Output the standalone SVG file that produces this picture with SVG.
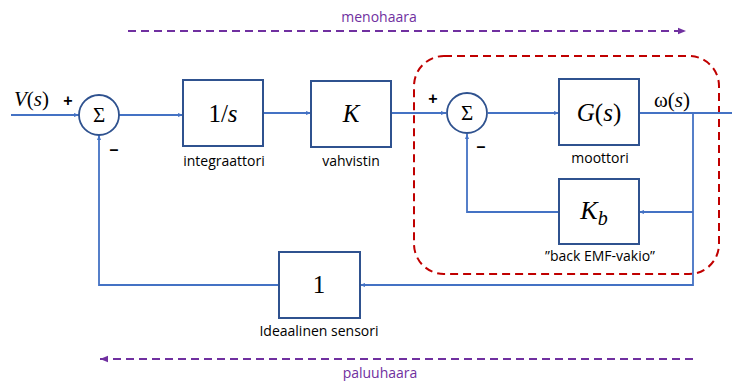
<svg xmlns="http://www.w3.org/2000/svg" width="732" height="381" viewBox="0 0 732 381">
<defs>
<style>
.box{fill:#fff;stroke:#2F528F;stroke-width:2}
.sum{fill:#fff;stroke:#2F528F;stroke-width:1.8}
.ln{fill:none;stroke:#4472C4;stroke-width:1.8}
.pd{fill:none;stroke:#7030A0;stroke-width:2;stroke-dasharray:8 5}
.rd{fill:none;stroke:#C00000;stroke-width:2;stroke-dasharray:8 5}
.math{font-family:"Liberation Serif","Times New Roman",serif;fill:#000}
.lbl{font-family:"Open Sans","Liberation Sans",sans-serif;font-size:14px;fill:#000;text-anchor:middle}
.plbl{font-family:"Open Sans","Liberation Sans",sans-serif;font-size:14px;fill:#7030A0;text-anchor:middle}
.sgn{font-family:"Liberation Sans",Arial,sans-serif;font-size:16px;font-weight:bold;fill:#000;text-anchor:middle}
</style>
<marker id="ab" viewBox="0 0 10 10" refX="10" refY="5" markerWidth="5" markerHeight="5" orient="auto" markerUnits="userSpaceOnUse"><path d="M0,1 L10,5 L0,9 z" fill="#4472C4"/></marker>
<marker id="ap" viewBox="0 0 10 10" refX="10" refY="5" markerWidth="8" markerHeight="8" orient="auto" markerUnits="userSpaceOnUse"><path d="M0,1 L10,5 L0,9 z" fill="#7030A0"/></marker>
</defs>
<rect width="732" height="381" fill="#fff"/>

<g id="paths">
<line class="pd" x1="128" y1="31" x2="686" y2="31" marker-end="url(#ap)"/>
<text class="plbl" x="379" y="22">menohaara</text>
<line class="pd" x1="693" y1="359" x2="100" y2="359" marker-end="url(#ap)"/>
<text class="plbl" x="380" y="378">paluuhaara</text>
</g>

<g id="motor-group">
<rect class="rd" x="414" y="56" width="305" height="218" rx="30" ry="30"/>
</g>

<g id="connectors">
<line class="ln" x1="11" y1="115" x2="79" y2="115" marker-end="url(#ab)"/>
<line class="ln" x1="119" y1="115" x2="183" y2="115" marker-end="url(#ab)"/>
<line class="ln" x1="263" y1="113" x2="311" y2="113" marker-end="url(#ab)"/>
<line class="ln" x1="391" y1="113" x2="446" y2="113" marker-end="url(#ab)"/>
<line class="ln" x1="488" y1="113" x2="559" y2="113" marker-end="url(#ab)"/>
<line class="ln" x1="639" y1="113" x2="732" y2="113"/>
<polyline class="ln" points="693,113 693,285 360,285" marker-end="url(#ab)"/>
<polyline class="ln" points="693,212 639,212" marker-end="url(#ab)"/>
<polyline class="ln" points="559,212 467,212 467,134" marker-end="url(#ab)"/>
<polyline class="ln" points="279,285 99,285 99,135" marker-end="url(#ab)"/>
</g>

<g id="input-label">
<text class="math" x="14" y="106" font-size="21"><tspan font-style="italic">V</tspan>(<tspan font-style="italic">s</tspan>)</text>
</g>

<g id="sum1">
<circle class="sum" cx="99" cy="115" r="20"/>
<text class="math" x="99" y="122" font-size="21" text-anchor="middle">Σ</text>
<text class="sgn" x="68" y="106">+</text>
<text class="sgn" x="114" y="155">–</text>
</g>

<g id="integrator">
<rect class="box" x="183" y="80" width="80" height="66"/>
<text class="math" x="223" y="122" font-size="25" text-anchor="middle">1/<tspan font-style="italic">s</tspan></text>
<text class="lbl" x="224" y="166">integraattori</text>
</g>

<g id="amplifier">
<rect class="box" x="311" y="81" width="80" height="66"/>
<text class="math" x="351" y="122" font-size="25" font-style="italic" text-anchor="middle">K</text>
<text class="lbl" x="351" y="166">vahvistin</text>
</g>

<g id="sum2">
<circle class="sum" cx="467" cy="113" r="20"/>
<text class="math" x="467" y="120" font-size="21" text-anchor="middle">Σ</text>
<text class="sgn" x="433" y="104">+</text>
<text class="sgn" x="481" y="152">–</text>
</g>

<g id="motor">
<rect class="box" x="559" y="79" width="80" height="66"/>
<text class="math" x="599" y="121" font-size="25" text-anchor="middle"><tspan font-style="italic">G</tspan>(<tspan font-style="italic">s</tspan>)</text>
<text class="lbl" x="600" y="163">moottori</text>
</g>

<g id="output-label">
<text class="math" x="654" y="107" font-size="21">ω(<tspan font-style="italic">s</tspan>)</text>
</g>

<g id="backemf">
<rect class="box" x="559" y="179" width="80" height="65"/>
<text class="math" x="594" y="219" font-size="26" font-style="italic" text-anchor="middle">K<tspan font-size="20" dy="6">b</tspan></text>
<text class="lbl" x="600" y="261">”back EMF-vakio”</text>
</g>

<g id="sensor">
<rect class="box" x="279" y="252" width="81" height="66"/>
<text class="math" x="319" y="293" font-size="25" text-anchor="middle">1</text>
<text class="lbl" x="319" y="336">Ideaalinen sensori</text>
</g>
</svg>
